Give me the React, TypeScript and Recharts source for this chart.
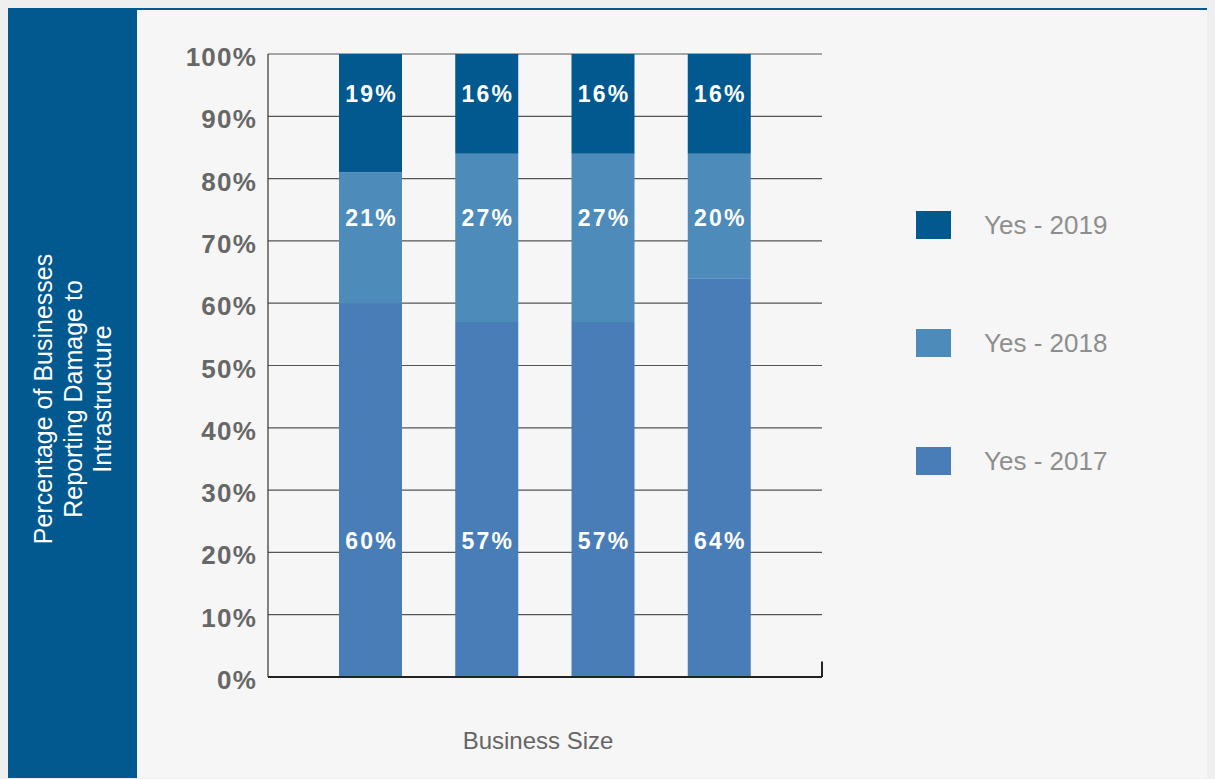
import React from 'react';
import { BarChart, Bar, XAxis, YAxis, CartesianGrid, LabelList, Legend, ReferenceLine } from 'recharts';

const categories = ['Micro', 'Small', 'Medium', 'Large'];
const yes2017 = [60, 57, 57, 64];
const yes2018 = [21, 27, 27, 20];
const yes2019 = [19, 16, 16, 16];
const yTicks = [0, 10, 20, 30, 40, 50, 60, 70, 80, 90, 100];
const seriesNames = ['Yes - 2019', 'Yes - 2018', 'Yes - 2017'];
const labelLevels = { y2017: 21.8, y2018: 73.7, y2019: 93.6 };

const C2019 = '#02598f';
const C2018 = '#4c8bba';
const C2017 = '#497db8';
const PANEL = '#02598f';

const data = categories.map((c, i) => ({
  size: c,
  idx: i,
  y2017: yes2017[i],
  y2018: yes2018[i],
  y2019: yes2019[i],
}));

const lastIdx = categories.length - 1;

const FONT = '"Liberation Sans", Arial, Helvetica, sans-serif';

const makeLabel = (level: number, belowKeys: string[]) => (props: any) => {
  const x = Number(props.x);
  const y = Number(props.y);
  const width = Number(props.width);
  const height = Number(props.height);
  const value = Number(props.value);
  const row: any = data[props.index];
  if (!value || !row) return null;
  const ppu = height / value;
  const below = belowKeys.reduce((s, k) => s + row[k], 0);
  const baseline = y + height + below * ppu;
  const cy = baseline - level * ppu;
  return (
    <text
      x={x + width / 2 + 1}
      y={cy}
      textAnchor="middle"
      dominantBaseline="central"
      fill="#ffffff"
      fontSize={23}
      fontWeight="bold"
      letterSpacing={2.2}
      fontFamily={FONT}
    >
      {value}%
    </text>
  );
};

const YTick = (props: any) => {
  const { x, y, payload } = props;
  return (
    <text
      x={x + 1}
      y={y + 3}
      textAnchor="end"
      dominantBaseline="central"
      fill="#676767"
      fontSize={26}
      fontWeight="bold"
      letterSpacing={1.2}
      fontFamily={FONT}
    >
      {payload.value}%
    </text>
  );
};

const XLabel = (props: any) => {
  const vb = props.viewBox || {};
  return (
    <text
      x={vb.x + vb.width / 2 - 7}
      y={vb.y + 63}
      textAnchor="middle"
      dominantBaseline="central"
      fill="#656565"
      fontSize={24}
      fontFamily={FONT}
    >
      Business Size
    </text>
  );
};

const legendColors = [C2019, C2018, C2017];

const LegendContent = () => (
  <div style={{ position: 'relative', width: 260, height: 300 }}>
    {seriesNames.map((n, i) => (
      <div
        key={n}
        style={{ position: 'absolute', left: 0, top: i * 118, height: 28, display: 'flex', alignItems: 'center' }}
      >
        <div style={{ width: 35, height: 28, background: legendColors[i] }} />
        <span
          style={{
            marginLeft: 33,
            fontFamily: FONT,
            fontSize: 26,
            color: '#8e8e8e',
            whiteSpace: 'nowrap',
            fontWeight: 300,
          }}
        >
          {n}
        </span>
      </div>
    ))}
  </div>
);

export default function App() {
  return (
    <>
      <div style={{ position: 'fixed', inset: 0, background: '#efefef', zIndex: -1 }} />
      <div
        style={{
          position: 'relative',
          width: 1207,
          height: 771,
          background: '#f6f6f6',
          borderTop: `3px solid ${PANEL}`,
          marginTop: -1,
          boxSizing: 'border-box',
        }}
      >
        <div style={{ position: 'absolute', left: 0, top: 0, width: 129, height: 771, background: PANEL }}>
          <svg width={129} height={771}>
            <text
              transform="rotate(-90, 64, 389)"
              x={64}
              y={389}
              textAnchor="middle"
              fill="#ffffff"
              fontSize={25}
              fontFamily={FONT}
            >
              <tspan x={64} y={389 - 29} dominantBaseline="central">Percentage of Businesses</tspan>
              <tspan x={64} y={389 + 1} dominantBaseline="central">Reporting Damage to</tspan>
              <tspan x={64} y={389 + 30} dominantBaseline="central">Intrastructure</tspan>
            </text>
          </svg>
        </div>
        <div style={{ position: 'absolute', left: 0, top: -2 }}>
          <BarChart
            width={1207}
            height={771}
            data={data}
            margin={{ top: 46, right: 393, bottom: 0, left: 0 }}
          >
            <CartesianGrid horizontal vertical={false} stroke="#555" strokeWidth={1.2} />
            <XAxis
              dataKey="size"
              tick={false}
              tickLine={false}
              axisLine={{ stroke: '#222', strokeWidth: 2 }}
              height={102}
              padding={{ left: 44, right: 45 }}
              label={<XLabel />}
            />
            <XAxis
              xAxisId="edge"
              dataKey="idx"
              type="number"
              domain={[0, lastIdx]}
              allowDataOverflow
              hide
            />
            <YAxis
              domain={[0, 100]}
              ticks={yTicks}
              width={260}
              tickLine={false}
              tickSize={0}
              tickMargin={12}
              axisLine={{ stroke: '#333', strokeWidth: 1.2 }}
              tick={<YTick />}
              interval={0}
            />
            <ReferenceLine
              xAxisId="edge"
              segment={[{ x: lastIdx, y: 0 }, { x: lastIdx, y: 2.5 }]}
              stroke="#222"
              strokeWidth={2}
              ifOverflow="visible"
            />
            <Legend
              verticalAlign="middle"
              align="center"
              layout="horizontal"
              content={<LegendContent />}
              wrapperStyle={{ position: 'absolute', left: 908, top: 203, width: 260, height: 300 }}
            />
            <Bar dataKey="y2017" stackId="a" fill={C2017} barSize={63} isAnimationActive={false}>
              <LabelList dataKey="y2017" content={makeLabel(labelLevels.y2017, [])} />
            </Bar>
            <Bar dataKey="y2018" stackId="a" fill={C2018} barSize={63} isAnimationActive={false}>
              <LabelList dataKey="y2018" content={makeLabel(labelLevels.y2018, ['y2017'])} />
            </Bar>
            <Bar dataKey="y2019" stackId="a" fill={C2019} barSize={63} isAnimationActive={false}>
              <LabelList dataKey="y2019" content={makeLabel(labelLevels.y2019, ['y2017', 'y2018'])} />
            </Bar>
          </BarChart>
        </div>
      </div>
    </>
  );
}
